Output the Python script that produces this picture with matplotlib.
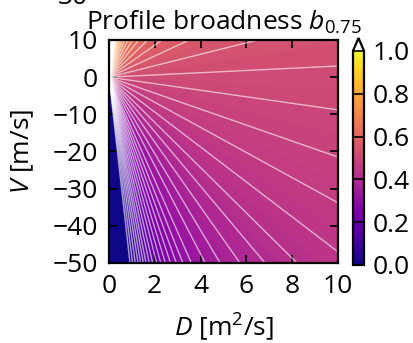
import numpy as np
import matplotlib
matplotlib.use("Agg")
import matplotlib.pyplot as plt

plt.rcParams['font.family'] = ['Open Sans', 'DejaVu Sans']
plt.rcParams['mathtext.fontset'] = 'custom'
plt.rcParams['mathtext.rm'] = 'Open Sans'
plt.rcParams['mathtext.it'] = 'Open Sans:italic'
plt.rcParams['mathtext.bf'] = 'Open Sans:bold'

# ratio V/D (the contour lines are rays from the origin) and the profile broadness
# level on each ray
ratio_vd = [-1000, -66.0, -62.5, -54.3, -48.5, -43.5, -39.4, -36.2, -33.3, -30.9, -28.4,
            -26.2, -24.0, -22.1, -20.3, -18.6, -17.0, -15.5, -13.9, -11.9, -10.3,
            -8.74, -7.34, -6.09, -4.7, -3.38, -2.15, -0.88, 0.3, 1.54, 2.85, 4.3,
            5.9, 7.7, 9.7, 12.0, 14.5, 17.3, 20.5, 24.0, 28.0, 33.0, 39.0, 46.0,
            54.0, 100.0, 1000.0]
broadness = [0.0, 0.0, 0.005, 0.02, 0.04, 0.06, 0.08, 0.10, 0.12, 0.14, 0.16,
             0.18, 0.20, 0.22, 0.24, 0.26, 0.28, 0.30, 0.32, 0.34, 0.36,
             0.38, 0.40, 0.42, 0.44, 0.46, 0.48, 0.50, 0.52, 0.54, 0.56, 0.58,
             0.60, 0.62, 0.64, 0.66, 0.68, 0.70, 0.72, 0.74, 0.76, 0.78, 0.82, 0.90,
             0.95, 1.10, 1.50]
D_range = [0.0, 10.0]
V_range = [-50.0, 10.0]
xticks = [0, 2, 4, 6, 8, 10]
yticks = [10, 0, -10, -20, -30, -40, -50]
ytick_labels = ['10', '0', '\u221210', '\u221220', '\u221230', '\u221240', '\u221250']
cbar_ticks = [0.0, 0.2, 0.4, 0.6, 0.8, 1.0]
cbar_labels = ['0.0', '0.2', '0.4', '0.6', '0.8', '1.0']

D = np.linspace(D_range[0] + 0.02, D_range[1], 500)
V = np.linspace(V_range[0], V_range[1], 500)
DD, VV = np.meshgrid(D, V)
B = np.interp(VV / DD, ratio_vd, broadness)

FS = 19
fig = plt.figure(figsize=(4.13, 3.43), dpi=100)
ax = fig.add_axes([109/413, 1 - 263/343, 229/413, 223/343])
cmap = plt.get_cmap('plasma').copy()
cmap.set_over('white')
cf = ax.contourf(DD, VV, B, levels=np.linspace(0, 1, 101), cmap=cmap, extend='max')
ax.contour(DD, VV, B, levels=np.arange(0.02, 1.0, 0.02), colors='white',
           linewidths=1.0, alpha=0.6)
ax.set_xlim(D_range)
ax.set_ylim(V_range)
ax.set_xticks(xticks)
ax.set_yticks(yticks)
ax.set_yticklabels(ytick_labels)
ax.tick_params(direction='in', top=True, right=True, length=6, width=1.2,
               labelsize=FS, pad=8)
for s in ax.spines.values():
    s.set_linewidth(1.6)
ax.set_xlabel('$D$ [m$^2$/s]', fontsize=FS, labelpad=9)
ax.set_ylabel('$V$ [m/s]', fontsize=FS, labelpad=12)
ax.set_title('Profile broadness $b_{0.75}$', fontsize=FS, pad=7)

cax = fig.add_axes([353/413, 1 - 265/343, 11/413, 227/343])
cb = fig.colorbar(cf, cax=cax, extend='max', extendfrac=0.06)
cb.set_ticks(cbar_ticks)
cb.ax.set_yticklabels(cbar_labels)
cb.ax.tick_params(direction='in', length=8, width=1.2, labelsize=FS, pad=6)
cb.outline.set_linewidth(1.6)

fig.text(88/413, 1 - 4/343, '30', fontsize=FS, ha='right', va='baseline')

fig.savefig('out.png', dpi=100)
